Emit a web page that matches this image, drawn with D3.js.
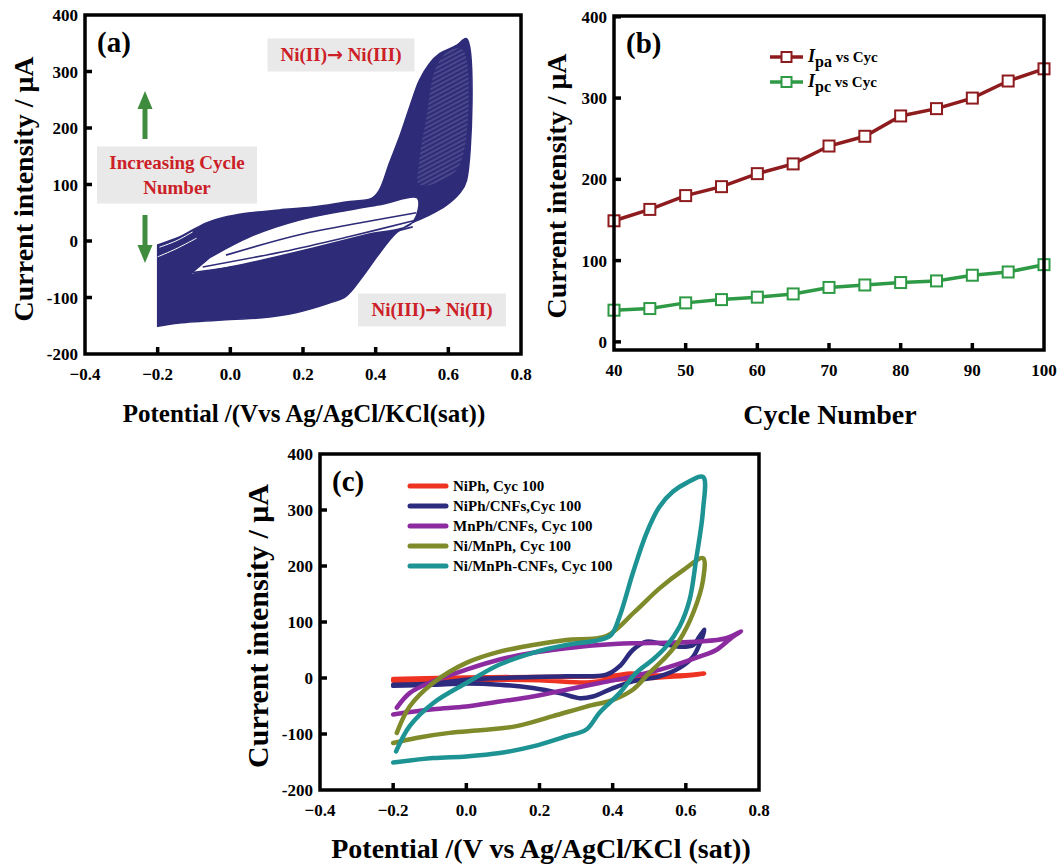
<!DOCTYPE html>
<html>
<head>
<meta charset="utf-8">
<script src="https://cdn.jsdelivr.net/npm/d3@7"></script>
<style>
  body { margin: 0; background: #fff; }
  text { font-family: "Liberation Serif", "Times New Roman", serif; font-weight: bold; }
</style>
</head>
<body>
<div id="chart"></div>
<script>
// ---- data ----
// panel (a): many overlapping CV cycles, drawn as the filled band they form
var bandOuter = [[-0.2,-151],[-0.14,-145],[0,-139],[0.088,-136],[0.18,-127],[0.272,-110],[0.318,-98],
  [0.364,-63],[0.41,-22],[0.456,14],[0.5,32],[0.548,46],[0.594,63],[0.63,84],[0.65,107],
  [0.65,358],[0.622,346],[0.575,331],[0.548,314],[0.52,284],[0.493,236],[0.465,183],[0.438,138],
  [0.41,90],[0.39,76],[0.318,69],[0.226,60],[0.135,55],[0.044,49],[-0.022,41],[-0.066,32],
  [-0.105,19],[-0.14,7],[-0.2,-7]];
var bandHole = [[-0.113,-60],[0.052,-39],[0.237,-11],[0.374,11],[0.5,32],[0.515,76],[0.418,65],
  [0.328,55],[0.19,37],[0.052,7],[-0.058,-30]];
var holeLines = [
  [[-0.012,-25],[0.19,11],[0.374,34],[0.512,50]],
  [[-0.076,-46],[0.144,-19],[0.328,8],[0.512,37]],
  [[-0.104,-56],[0.144,-31],[0.502,25]]
];
// thin gaps between the first cycles at the left end
var bandGaps = [
  [[-0.195,-11],[-0.15,0],[-0.104,16]],
  [[-0.2,-28],[-0.15,-14],[-0.093,5]]
];
// region where single cycles show as a hatch
var hatchRegion = [[0.52,100],[0.6,112],[0.64,150],[0.64,338],[0.6,336],[0.565,305],[0.54,220],[0.52,140]];

// panel (b)
var cycles = [40,45,50,55,60,65,70,75,80,85,90,95,100];
var ipa = [149,163,180,191,207,219,241,253,278,287,300,321,336];
var ipc = [39,41,48,52,55,59,67,70,73,75,82,86,95];

// panel (c)
var cvNames = ["NiPh, Cyc 100","NiPh/CNFs,Cyc 100","MnPh/CNFs, Cyc 100","Ni/MnPh, Cyc 100","Ni/MnPh-CNFs, Cyc 100"];
var cvColors = ["#ee3322","#2d2b7e","#8c2aa0","#7f8a2a","#1d9394"];
var cvNiPh = [[-0.2,-2],[0,1],[0.2,2],[0.4,4],[0.45,8],[0.5,5],[0.6,5],[0.65,8],
  [0.6,4],[0.5,0],[0.4,-3],[0.33,-8],[0.2,-4],[0,-3],[-0.2,-5]];
var cvNiPhCNF = [[-0.2,-12],[-0.091,-10],[0,-3],[0.091,0],[0.273,3],[0.383,6],[0.419,21],[0.455,50],
  [0.492,65],[0.528,62],[0.583,56],[0.62,59],[0.637,74],[0.651,86],
  [0.642,68],[0.62,38],[0.583,18],[0.528,3],[0.455,-6],[0.401,-18],[0.346,-33],[0.31,-36],
  [0.255,-27],[0.182,-18],[0.091,-12],[0,-10],[-0.091,-12],[-0.2,-14]];
var cvMnPhCNF = [[-0.19,-53],[-0.155,-27],[-0.091,-6],[0,15],[0.091,33],[0.182,45],[0.273,53],
  [0.364,59],[0.455,62],[0.546,63],[0.637,65],[0.71,71],[0.751,83],
  [0.729,74],[0.683,50],[0.637,38],[0.546,18],[0.455,3],[0.364,-9],[0.273,-21],[0.182,-33],
  [0.091,-42],[0,-51],[-0.091,-56],[-0.2,-65]];
var cvNiMnPh = [[-0.19,-98],[-0.155,-51],[-0.091,-9],[0,27],[0.091,47],[0.182,59],[0.273,68],
  [0.383,75],[0.46,118],[0.528,160],[0.592,192],[0.647,214],
  [0.647,175],[0.62,116],[0.583,68],[0.546,38],[0.5,9],[0.455,-21],[0.401,-39],[0.328,-51],
  [0.237,-68],[0.137,-86],[0.046,-93],[-0.046,-98],[-0.137,-107],[-0.2,-116]];
var cvNiMnPhCNF = [[-0.192,-131],[-0.155,-86],[-0.091,-45],[0,-9],[0.091,24],[0.182,45],[0.273,59],
  [0.364,68],[0.396,77],[0.419,110],[0.455,187],[0.492,258],[0.528,306],[0.565,333],[0.601,348],[0.647,359],
  [0.647,300],[0.628,211],[0.61,139],[0.583,92],[0.546,56],[0.51,33],[0.464,9],[0.419,-27],
  [0.364,-62],[0.328,-92],[0.273,-104],[0.182,-122],[0.091,-134],[0,-140],[-0.091,-143],[-0.2,-151]];
var cvData = [cvNiPh, cvNiPhCNF, cvMnPhCNF, cvNiMnPh, cvNiMnPhCNF];

var potTicks = [-0.4,-0.2,0.0,0.2,0.4,0.6,0.8];
var curTicks = [-200,-100,0,100,200,300,400];
var cycTicks = [40,50,60,70,80,90,100];
var ibTicks = [0,100,200,300,400];

// ---- drawing ----
var svg = d3.select("#chart").append("svg")
  .attr("width", 1059).attr("height", 864);

var defs = svg.append("defs");
var pat = defs.append("pattern").attr("id", "hatch").attr("patternUnits", "userSpaceOnUse")
  .attr("width", 4).attr("height", 4).attr("patternTransform", "rotate(-28)");
pat.append("line").attr("x1", 0).attr("x2", 4).attr("y1", 1).attr("y2", 1)
  .attr("stroke", "#fff").attr("stroke-width", 0.6).attr("stroke-opacity", 0.45);

function panel(box, xDom, yDom, xT, yT, xFmt, letter) {
  var x = d3.scaleLinear().domain(xDom).range([box.l, box.r]);
  var y = d3.scaleLinear().domain(yDom).range([box.b, box.t]);
  var g = svg.append("g");

  // inward ticks, skip ends that sit on the frame
  var inX = xT.filter(function(d) { return d > xDom[0] && d < xDom[1]; });
  var inY = yT.filter(function(d) { return d > yDom[0] && d < yDom[1]; });
  g.selectAll(".xt").data(inX).enter().append("line")
    .attr("x1", x).attr("x2", x).attr("y1", box.b).attr("y2", box.b - 7)
    .attr("stroke", "#000").attr("stroke-width", 3.5);
  g.selectAll(".yt").data(inY).enter().append("line")
    .attr("y1", y).attr("y2", y).attr("x1", box.l).attr("x2", box.l + 7)
    .attr("stroke", "#000").attr("stroke-width", 3.5);

  g.selectAll(".xl").data(xT).enter().append("text")
    .attr("x", x).attr("y", box.b + 26)
    .attr("text-anchor", "middle").attr("font-size", 17)
    .text(xFmt);
  g.selectAll(".yl").data(yT).enter().append("text")
    .attr("x", box.l - 7).attr("y", function(d) { return y(d) + 6; })
    .attr("text-anchor", "end").attr("font-size", 17)
    .text(function(d) { return d; });

  g.append("text").attr("x", box.l + 12).attr("y", box.t + 37)
    .attr("font-size", 29).text(letter);

  return { g: g, x: x, y: y, box: box };
}

function frame(p) {
  p.g.append("rect")
    .attr("x", p.box.l).attr("y", p.box.t)
    .attr("width", p.box.r - p.box.l).attr("height", p.box.b - p.box.t)
    .attr("fill", "none").attr("stroke", "#000").attr("stroke-width", 3.5);
}

function yTitle(cx, cy, size, txt) {
  svg.append("text").attr("transform", "translate(" + cx + "," + cy + ") rotate(-90)")
    .attr("text-anchor", "middle").attr("font-size", size).text(txt);
}

var fmt1 = d3.format(".1f");

// ----- (a) -----
var pa = panel({l: 85, r: 521, t: 15, b: 354}, [-0.4, 0.8], [-200, 400],
  potTicks, curTicks, fmt1, "(a)");
var lineA = d3.line().x(function(d) { return pa.x(d[0]); }).y(function(d) { return pa.y(d[1]); })
  .curve(d3.curveCatmullRom.alpha(0.5));
var navy = "#2e2c78";
pa.g.append("path")
  .attr("d", lineA(bandOuter) + "Z" + lineA(bandHole) + "Z")
  .attr("fill", navy).attr("fill-rule", "evenodd")
  .attr("stroke", navy).attr("stroke-width", 1.5);
pa.g.selectAll(".hl").data(holeLines).enter().append("path")
  .attr("d", lineA).attr("fill", "none").attr("stroke", navy).attr("stroke-width", 1.6);
pa.g.selectAll(".gp").data(bandGaps).enter().append("path")
  .attr("d", lineA).attr("fill", "none").attr("stroke", "#fff").attr("stroke-width", 1);
pa.g.append("path")
  .attr("d", d3.line().x(function(d) { return pa.x(d[0]); }).y(function(d) { return pa.y(d[1]); })
    .curve(d3.curveCatmullRomClosed)(hatchRegion))
  .attr("fill", "url(#hatch)");

// annotation boxes
function noteBox(g, cx, cy, w, h, lines) {
  g.append("rect").attr("x", cx - w / 2).attr("y", cy - h / 2).attr("width", w).attr("height", h)
    .attr("fill", "#e9e9e9");
  lines.forEach(function(t, i) {
    var tx = g.append("text").attr("x", cx).attr("y", cy + 6 + (i - (lines.length - 1) / 2) * 25)
      .attr("text-anchor", "middle").attr("font-size", 19).attr("fill", "#cc2027");
    t.split("\u2192").forEach(function(part, j) {
      if (j > 0) tx.append("tspan").style("font-family", "DejaVu Sans").attr("font-size", 19).text("\u2192");
      tx.append("tspan").text(part);
    });
  });
}
noteBox(pa.g, 341, 55, 147, 33, ["Ni(II)\u2192 Ni(III)"]);
noteBox(pa.g, 177, 175, 160, 57, ["Increasing Cycle", "Number"]);
noteBox(pa.g, 432, 310, 148, 33, ["Ni(III)\u2192 Ni(II)"]);

// green arrows
var green = "#3f8c3f";
function arrow(g, x0, yFrom, yTo) {
  var dir = yTo < yFrom ? -1 : 1;
  g.append("line").attr("x1", x0).attr("x2", x0).attr("y1", yFrom).attr("y2", yTo - dir * 16)
    .attr("stroke", green).attr("stroke-width", 5);
  g.append("path")
    .attr("d", "M" + (x0 - 7.5) + "," + (yTo - dir * 18) + "L" + x0 + "," + yTo + "L" + (x0 + 7.5) + "," + (yTo - dir * 18) + "Z")
    .attr("fill", green);
}
arrow(pa.g, 145, 139, 91);
arrow(pa.g, 145, 215, 263);
frame(pa);

yTitle(33, 189, 28, "Current intensity / \u03bcA");
svg.append("text").attr("x", 304).attr("y", 422).attr("text-anchor", "middle")
  .attr("font-size", 25).text("Potential /(Vvs Ag/AgCl/KCl(sat))");

// ----- (b) -----
var pb = panel({l: 614, r: 1044, t: 16, b: 350}, [40, 100], [-10, 401],
  cycTicks, ibTicks, function(d) { return d; }, "(b)");
var lineB = d3.line().x(function(d, i) { return pb.x(cycles[i]); }).y(function(d) { return pb.y(d); });
var series = [{v: ipa, c: "#8e1b1e", sub: "pa"}, {v: ipc, c: "#2f9a45", sub: "pc"}];
series.forEach(function(s) {
  pb.g.append("path").attr("d", lineB(s.v)).attr("fill", "none")
    .attr("stroke", s.c).attr("stroke-width", 3.5);
  pb.g.selectAll(null).data(s.v).enter().append("rect")
    .attr("x", function(d, i) { return pb.x(cycles[i]) - 5.5; })
    .attr("y", function(d) { return pb.y(d) - 5.5; })
    .attr("width", 11).attr("height", 11)
    .attr("fill", "#fff").attr("stroke", s.c).attr("stroke-width", 2);
});
series.forEach(function(s, i) {
  var ly = 57 + i * 25;
  pb.g.append("line").attr("x1", 770).attr("x2", 803).attr("y1", ly).attr("y2", ly)
    .attr("stroke", s.c).attr("stroke-width", 3.5);
  pb.g.append("rect").attr("x", 781.5).attr("y", ly - 5).attr("width", 10).attr("height", 10)
    .attr("fill", "#fff").attr("stroke", s.c).attr("stroke-width", 2);
  var t = pb.g.append("text").attr("x", 808).attr("y", ly + 5).attr("font-size", 15);
  t.append("tspan").attr("font-style", "italic").attr("font-size", 18).text("I");
  t.append("tspan").attr("dy", 5).attr("font-size", 16).text(s.sub);
  t.append("tspan").attr("dy", -5).text(" vs Cyc");
});
frame(pb);

yTitle(566, 186, 28, "Current intensity / \u03bcA");
svg.append("text").attr("x", 830).attr("y", 424).attr("text-anchor", "middle")
  .attr("font-size", 28).text("Cycle Number");

// ----- (c) -----
var pc = panel({l: 320, r: 759, t: 454, b: 790}, [-0.4, 0.8], [-200, 400],
  potTicks, curTicks, fmt1, "(c)");
var lineC = d3.line().x(function(d) { return pc.x(d[0]); }).y(function(d) { return pc.y(d[1]); })
  .curve(d3.curveCatmullRom.alpha(0.5));
cvData.forEach(function(d, i) {
  pc.g.append("path").attr("d", lineC(d)).attr("fill", "none")
    .attr("stroke", cvColors[i]).attr("stroke-width", 4.5).attr("stroke-linecap", "round")
    .attr("stroke-linejoin", "round");
});
cvNames.forEach(function(n, i) {
  var ly = 486 + i * 20;
  pc.g.append("line").attr("x1", 410).attr("x2", 446).attr("y1", ly).attr("y2", ly)
    .attr("stroke", cvColors[i]).attr("stroke-width", 5).attr("stroke-linecap", "round");
  pc.g.append("text").attr("x", 453).attr("y", ly + 5).attr("font-size", 15).text(n);
});
frame(pc);

yTitle(268, 626, 30, "Current intensity / \u03bcA");
svg.append("text").attr("x", 541).attr("y", 858).attr("text-anchor", "middle")
  .attr("font-size", 28).text("Potential /(V vs Ag/AgCl/KCl (sat))");
</script>
</body>
</html>
